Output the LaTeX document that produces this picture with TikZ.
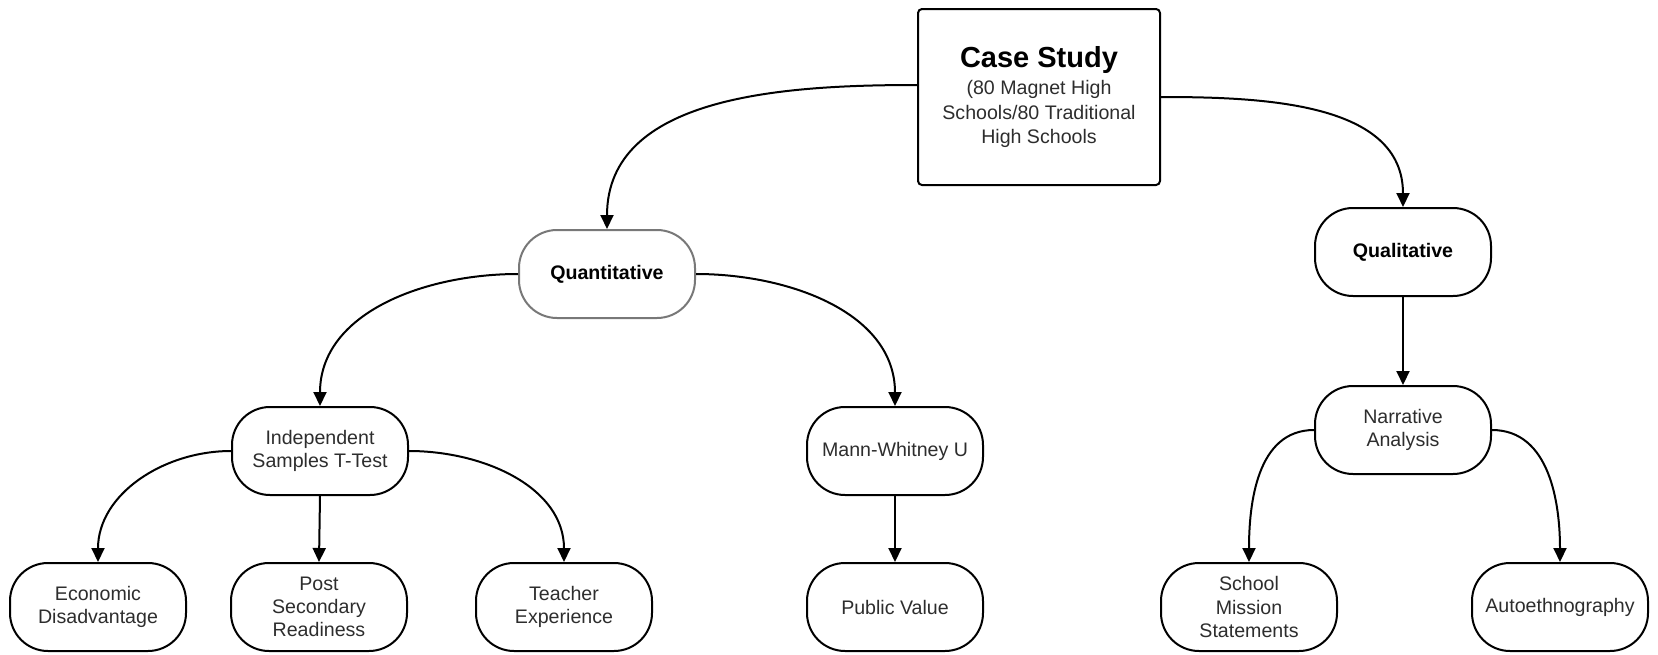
\documentclass[tikz,border=0pt]{standalone}
\usepackage{fontspec}
\setmainfont{Liberation Sans}
\usetikzlibrary{arrows.meta}
\definecolor{txt}{RGB}{45,45,45}
\definecolor{qborder}{RGB}{120,120,120}
\tikzset{
  pill/.style={draw=black, line width=2pt, rounded corners=38pt, minimum width=176pt, minimum height=88pt,
    align=center, text=txt, font=\fontsize{19.6}{23.2}\selectfont, inner sep=2pt},
  bigbox/.style={draw=black, line width=2pt, rounded corners=4pt, minimum width=242pt, minimum height=176pt,
    align=center, text=txt, font=\fontsize{19.6}{24.4}\selectfont},
  conn/.style={line width=2pt, -{Triangle[width=13pt,length=14pt]}},
}
\begin{document}
\begin{tikzpicture}[x=1pt,y=-1pt]
\useasboundingbox (0,0) rectangle (1658,654);
\node[bigbox] (cs) at (1039,97) {{\fontsize{29}{34}\selectfont\bfseries\color{black}Case Study}\\[3pt](80 Magnet High\\Schools/80 Traditional\\High Schools};
\node[pill, draw=qborder, font=\fontsize{19.6}{23.2}\selectfont\bfseries, text=black] (quant) at (607,274) {Quantitative};
\node[pill, font=\fontsize{19.6}{23.2}\selectfont\bfseries, text=black] (qual) at (1403,252) {Qualitative};
\node[pill] (ind) at (320,451) {Independent\\Samples T-Test};
\node[pill] (mw) at (895,451) {Mann-Whitney U};
\node[pill] (na) at (1403,430) {Narrative\\Analysis};
\node[pill] (econ) at (98,607) {Economic\\Disadvantage};
\node[pill] (post) at (319,607) {Post\\Secondary\\Readiness};
\node[pill] (teach) at (564,607) {Teacher\\Experience};
\node[pill] (pub) at (895,607) {Public Value};
\node[pill] (school) at (1249,607) {School\\Mission\\Statements};
\node[pill] (auto) at (1560,607) {Autoethnography};

\draw[conn] ([yshift=12pt]cs.west) to[out=180,in=90] (quant.north);
\draw[conn] (cs.east) to[out=0,in=90] (qual.north);
\draw[conn] (quant.west) to[out=180,in=90] (ind.north);
\draw[conn] (quant.east) to[out=0,in=90] (mw.north);
\draw[conn] (qual.south) -- (na.north);
\draw[conn] (ind.west) to[out=180,in=90] (econ.north);
\draw[conn] (ind.south) -- (post.north);
\draw[conn] (ind.east) to[out=0,in=90] (teach.north);
\draw[conn] (mw.south) -- (pub.north);
\draw[conn] (na.west) to[out=180,in=90] (school.north);
\draw[conn] (na.east) to[out=0,in=90] (auto.north);
\end{tikzpicture}
\end{document}
